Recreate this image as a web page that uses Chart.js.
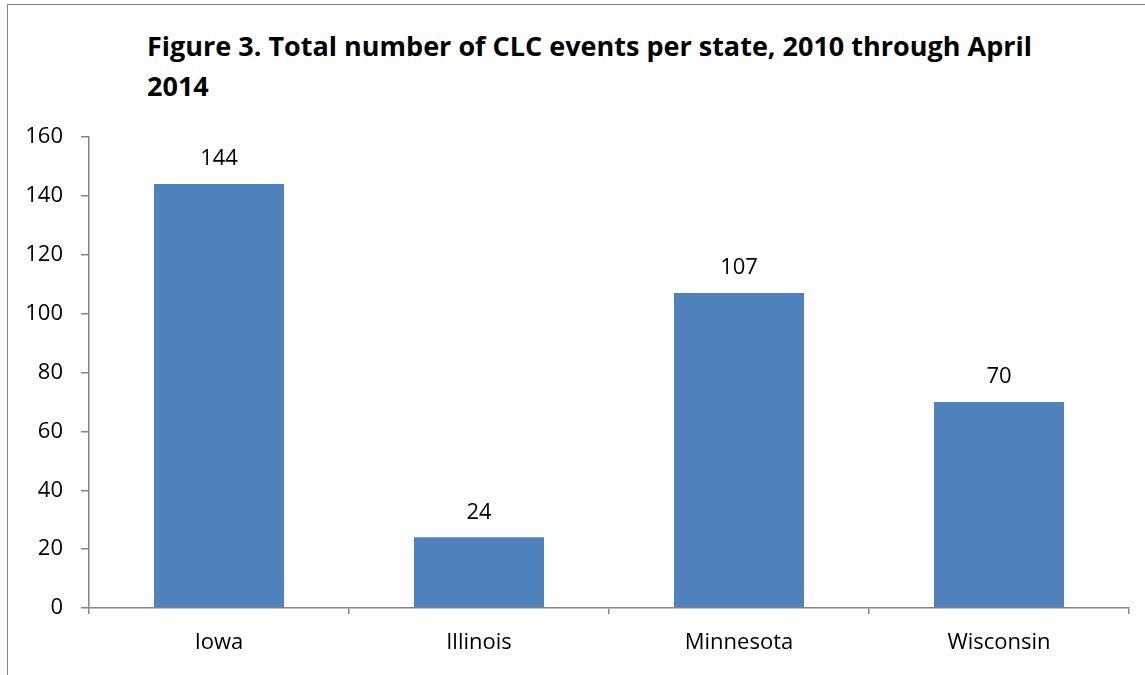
<!DOCTYPE html>
<html>
<head>
<meta charset="utf-8">
<script src="https://cdn.jsdelivr.net/npm/chart.js@4"></script>
<style>
  html, body { margin: 0; padding: 0; background: #fff; overflow: hidden; }
  #wrap { position: relative; width: 1145px; height: 675px; }
  #frame { position: absolute; left: 7px; top: 4px; width: 1150px; height: 690px;
           border: 1.5px solid #868686; box-sizing: border-box; }
  #title { position: absolute; left: 147px; top: 26px; font-family: "Open Sans", sans-serif;
           font-weight: bold; font-size: 27px; line-height: 40px; color: #000; white-space: nowrap; }
  canvas { position: absolute; left: 0; top: 0; }
</style>
</head>
<body>
<div id="wrap">
  <div id="frame"></div>
  <div id="title">Figure 3. Total number of CLC events per state, 2010 through April<br>2014</div>
  <canvas id="mainChart" width="1145" height="675"></canvas>
</div>
<script>
const states = ['Iowa', 'Illinois', 'Minnesota', 'Wisconsin'];
const events = [144, 24, 107, 70];
const yTicks = [0, 20, 40, 60, 80, 100, 120, 140, 160];

const axisGrey = '#868686';
const font = { family: '"Open Sans", sans-serif', size: 22 };

// Value labels above each bar
const valueLabels = {
    id: 'valueLabels',
    afterDatasetsDraw(chart) {
        const ctx = chart.ctx;
        const meta = chart.getDatasetMeta(0);
        ctx.save();
        ctx.font = `${font.size}px ${font.family}`;
        ctx.fillStyle = '#000';
        ctx.textAlign = 'center';
        ctx.textBaseline = 'middle';
        meta.data.forEach((bar, i) => {
            ctx.fillText(String(events[i]), bar.x, bar.y - 25);
        });
        ctx.restore();
    }
};

const ctx = document.getElementById('mainChart').getContext('2d');
new Chart(ctx, {
    type: 'bar',
    data: {
        labels: states,
        datasets: [{
            data: events,
            backgroundColor: '#4F81BD',
            borderWidth: 0,
            categoryPercentage: 1,
            barPercentage: 0.5
        }]
    },
    options: {
        responsive: false,
        animation: false,
        layout: { padding: { left: 0, right: 16, top: 137, bottom: 0 } },
        scales: {
            y: {
                min: 0,
                max: 160,
                afterBuildTicks: scale => { scale.ticks = yTicks.map(v => ({ value: v })); },
                afterFit: scale => { scale.width = 89; },
                border: { color: axisGrey, width: 1.5 },
                grid: { drawOnChartArea: false, drawTicks: true, tickLength: 8, color: axisGrey, lineWidth: 1.5 },
                ticks: { font: font, color: '#000', padding: 18 }
            },
            x: {
                afterFit: scale => { scale.height = 67; },
                border: { color: axisGrey, width: 1.5 },
                grid: { offset: true, drawOnChartArea: false, drawTicks: true, tickLength: 6, color: axisGrey, lineWidth: 1.5 },
                ticks: { font: font, color: '#000', padding: 16 }
            }
        },
        plugins: {
            legend: { display: false },
            tooltip: { enabled: false },
            title: { display: false }
        }
    },
    plugins: [valueLabels]
});
</script>
</body>
</html>
